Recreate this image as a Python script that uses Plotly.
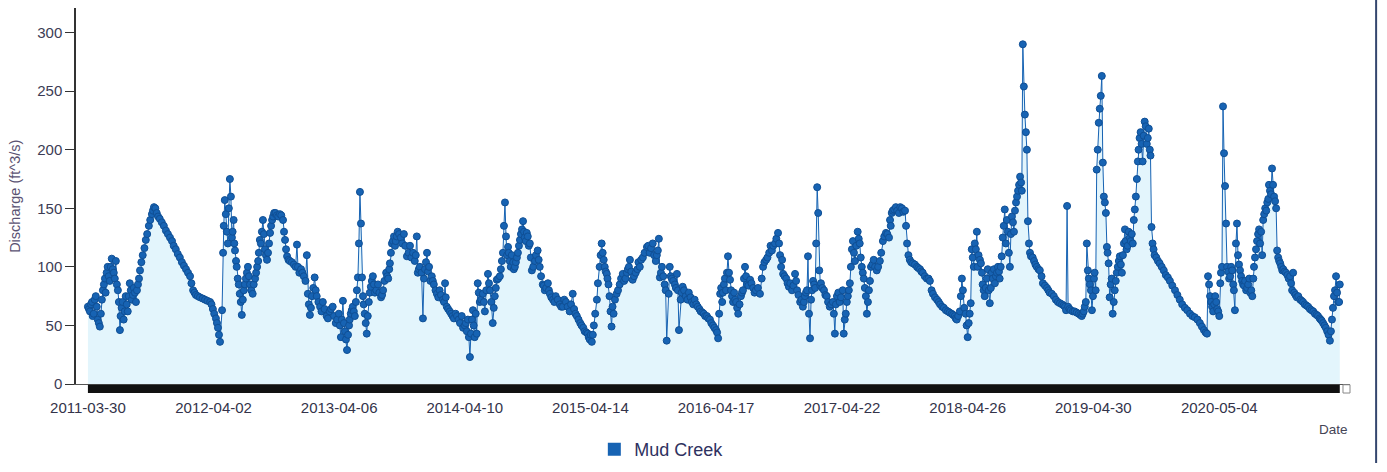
import pandas as pd
import plotly.graph_objects as go

# Discharge readings taken from the chart (ft^3/s)
dates = [
    "2011-03-30","2011-04-05","2011-04-11","2011-04-16","2011-04-22","2011-04-28","2011-05-04","2011-05-10","2011-05-16","2011-05-21",
    "2011-05-27","2011-06-02","2011-06-08","2011-06-14","2011-06-20","2011-06-26","2011-07-02","2011-07-07","2011-07-13","2011-07-19",
    "2011-07-25","2011-07-31","2011-08-06","2011-08-12","2011-08-18","2011-08-24","2011-08-30","2011-09-07","2011-09-16","2011-09-25",
    "2011-10-04","2011-10-10","2011-10-18","2011-10-27","2011-11-08","2011-11-20","2011-12-02","2011-12-13","2011-12-25","2012-01-06",
    "2012-01-18","2012-01-24","2012-02-02","2012-02-10","2012-02-22","2012-03-08","2012-03-23","2012-03-31","2012-04-09","2012-04-15",
    "2012-04-21","2012-04-27","2012-04-30","2012-05-05","2012-05-11","2012-05-17","2012-05-20","2012-05-23","2012-05-26","2012-05-31",
    "2012-06-04","2012-06-09","2012-06-15","2012-06-18","2012-06-24","2012-06-30","2012-07-06","2012-07-12","2012-07-18","2012-07-26",
    "2012-08-02","2012-08-08","2012-08-13","2012-08-16","2012-08-22","2012-08-25","2012-08-31","2012-09-06","2012-09-12","2012-09-15",
    "2012-09-21","2012-09-27","2012-10-05","2012-10-14","2012-10-23","2012-10-29","2012-11-04","2012-11-12","2012-11-24","2012-12-03",
    "2012-12-06","2012-12-15","2012-12-23","2013-01-01","2013-01-04","2013-01-10","2013-01-16","2013-01-24","2013-01-30","2013-02-09",
    "2013-02-17","2013-02-28","2013-03-09","2013-03-18","2013-03-27","2013-04-05","2013-04-11","2013-04-17","2013-04-23","2013-04-29",
    "2013-05-05","2013-05-10","2013-05-16","2013-05-22","2013-05-28","2013-05-31","2013-06-03","2013-06-06","2013-06-09","2013-06-12",
    "2013-06-15","2013-06-20","2013-06-26","2013-07-02","2013-07-08","2013-07-14","2013-07-20","2013-07-29","2013-08-07","2013-08-13",
    "2013-08-22","2013-08-28","2013-09-02","2013-09-08","2013-09-14","2013-09-19","2013-09-25","2013-10-04","2013-10-13","2013-10-22",
    "2013-10-31","2013-11-09","2013-11-14","2013-11-20","2013-11-23","2013-11-29","2013-12-08","2013-12-14","2013-12-20","2013-12-26",
    "2014-01-03","2014-01-09","2014-01-18","2014-01-26","2014-02-05","2014-02-11","2014-02-16","2014-02-25","2014-03-05","2014-03-14",
    "2014-03-23","2014-04-01","2014-04-10","2014-04-16","2014-04-19","2014-04-25","2014-04-28","2014-05-04","2014-05-09","2014-05-15",
    "2014-05-18","2014-05-24","2014-06-02","2014-06-08","2014-06-17","2014-06-23","2014-07-01","2014-07-07","2014-07-13","2014-07-22",
    "2014-07-28","2014-08-03","2014-08-06","2014-08-09","2014-08-15","2014-08-20","2014-08-26","2014-09-04","2014-09-10","2014-09-19",
    "2014-09-28","2014-10-03","2014-10-09","2014-10-18","2014-10-24","2014-11-02","2014-11-10","2014-11-16","2014-11-25","2014-12-01",
    "2014-12-10","2014-12-16","2014-12-25","2015-01-02","2015-01-14","2015-01-23","2015-02-01","2015-02-12","2015-02-21","2015-03-01",
    "2015-03-10","2015-03-19","2015-03-28","2015-04-06","2015-04-12","2015-04-18","2015-04-24","2015-05-03","2015-05-06","2015-05-11",
    "2015-05-17","2015-05-20","2015-05-26","2015-06-01","2015-06-06","2015-06-09","2015-06-15","2015-06-21","2015-06-30","2015-07-09",
    "2015-07-18","2015-07-26","2015-08-02","2015-08-08","2015-08-16","2015-08-25","2015-09-06","2015-09-15","2015-09-27","2015-10-05",
    "2015-10-14","2015-10-23","2015-10-29","2015-11-01","2015-11-04","2015-11-10","2015-11-18","2015-11-24","2015-11-30","2015-12-03",
    "2015-12-09","2015-12-18","2015-12-24","2015-12-30","2016-01-04","2016-01-10","2016-01-19","2016-01-28","2016-02-06","2016-02-14",
    "2016-02-23","2016-03-03","2016-03-12","2016-03-21","2016-03-30","2016-04-08","2016-04-17","2016-04-23","2016-04-29","2016-05-05",
    "2016-05-10","2016-05-16","2016-05-22","2016-05-28","2016-06-03","2016-06-12","2016-06-18","2016-06-21","2016-06-29","2016-07-05",
    "2016-07-11","2016-07-17","2016-07-26","2016-08-04","2016-08-12","2016-08-24","2016-09-02","2016-09-11","2016-09-20","2016-09-28",
    "2016-10-07","2016-10-16","2016-10-22","2016-10-28","2016-10-31","2016-11-09","2016-11-17","2016-11-26","2016-12-05","2016-12-11",
    "2016-12-20","2016-12-28","2017-01-03","2017-01-09","2017-01-12","2017-01-15","2017-01-18","2017-01-24","2017-01-30","2017-02-05",
    "2017-02-08","2017-02-11","2017-02-14","2017-02-19","2017-02-28","2017-03-08","2017-03-17","2017-03-26","2017-04-01","2017-04-07",
    "2017-04-15","2017-04-24","2017-04-27","2017-05-03","2017-05-09","2017-05-15","2017-05-21","2017-05-24","2017-05-30","2017-06-07",
    "2017-06-13","2017-06-19","2017-06-25","2017-07-01","2017-07-04","2017-07-10","2017-07-16","2017-07-24","2017-08-02","2017-08-11",
    "2017-08-20","2017-08-29","2017-09-07","2017-09-12","2017-09-18","2017-09-27","2017-10-06","2017-10-15","2017-10-24","2017-10-30",
    "2017-11-07","2017-11-16","2017-11-28","2017-12-07","2017-12-15","2017-12-27","2018-01-05","2018-01-14","2018-01-26","2018-02-04",
    "2018-02-15","2018-02-27","2018-03-10","2018-03-19","2018-03-25","2018-04-03","2018-04-09","2018-04-12","2018-04-20","2018-04-26",
    "2018-04-29","2018-05-05","2018-05-08","2018-05-14","2018-05-23","2018-05-28","2018-06-04","2018-06-09","2018-06-15","2018-06-21",
    "2018-06-30","2018-07-06","2018-07-15","2018-07-24","2018-07-29","2018-08-04","2018-08-13","2018-08-16","2018-08-22","2018-08-28",
    "2018-09-03","2018-09-09","2018-09-15","2018-09-21","2018-09-27","2018-10-02","2018-10-05","2018-10-08","2018-10-11","2018-10-14",
    "2018-10-17","2018-10-20","2018-10-23","2018-10-29","2018-11-07","2018-11-15","2018-11-24","2018-12-03","2018-12-15","2018-12-23",
    "2019-01-04","2019-01-16","2019-01-28","2019-02-06","2019-02-09","2019-02-12","2019-02-15","2019-02-23","2019-03-06","2019-03-18",
    "2019-03-27","2019-04-02","2019-04-08","2019-04-11","2019-04-14","2019-04-20","2019-04-26","2019-05-02","2019-05-07","2019-05-10",
    "2019-05-13","2019-05-16","2019-05-22","2019-05-25","2019-05-28","2019-05-31","2019-06-06","2019-06-09","2019-06-14","2019-06-17",
    "2019-06-23","2019-06-26","2019-07-02","2019-07-08","2019-07-17","2019-07-23","2019-08-01","2019-08-06","2019-08-15","2019-08-24",
    "2019-08-30","2019-09-05","2019-09-10","2019-09-16","2019-09-22","2019-09-28","2019-10-04","2019-10-10","2019-10-15","2019-10-18",
    "2019-10-21","2019-10-27","2019-11-06","2019-11-17","2019-11-29","2019-12-11","2019-12-26","2020-01-09","2020-01-24","2020-02-08",
    "2020-02-22","2020-03-08","2020-03-20","2020-03-29","2020-04-01","2020-04-07","2020-04-16","2020-04-25","2020-05-04","2020-05-07",
    "2020-05-12","2020-05-15","2020-05-18","2020-05-21","2020-05-24","2020-05-27","2020-06-05","2020-06-11","2020-06-19","2020-06-25",
    "2020-06-28","2020-07-04","2020-07-13","2020-07-22","2020-07-31","2020-08-09","2020-08-14","2020-08-20","2020-08-29","2020-09-07",
    "2020-09-13","2020-09-22","2020-09-30","2020-10-06","2020-10-12","2020-10-18","2020-10-21","2020-10-30","2020-11-08","2020-11-16",
    "2020-11-28","2020-12-04","2020-12-07","2020-12-10","2020-12-22","2021-01-05","2021-01-20","2021-02-04","2021-02-18","2021-03-01",
    "2021-03-13","2021-03-25","2021-03-31","2021-04-06","2021-04-12","2021-04-18","2021-04-23",
]
discharge = [
    66, 62, 70, 60, 75, 55, 49, 72, 85, 78,
    100, 88, 107, 95, 105, 80, 46, 65, 55, 75,
    62, 86, 72, 82, 70, 85, 97, 110, 123, 135,
    145, 151, 146, 141, 135, 128, 122, 115, 108, 101,
    95, 92, 80, 76, 74, 72, 70, 64, 56, 48,
    36, 63, 112, 157, 130, 150, 175, 160, 125, 140,
    114, 100, 85, 77, 59, 80, 90, 100, 85, 77,
    90, 100, 112, 123, 130, 140, 115, 106, 120, 129,
    140, 146, 144, 145, 140, 123, 109, 105, 102, 119,
    100, 98, 92, 110, 77, 59, 75, 91, 75, 66,
    70, 58, 62, 66, 52, 60, 40, 71, 45, 29,
    50, 60, 66, 58, 80, 91, 120, 164, 137, 91,
    75, 60, 43, 70, 83, 92, 78, 85, 74, 80,
    95, 90, 103, 120, 126, 122, 130, 125, 128, 109,
    118, 112, 105, 126, 95, 100, 56, 98, 112, 100,
    92, 85, 77, 80, 72, 86, 66, 62, 58, 60,
    55, 58, 50, 45, 55, 23, 43, 63, 40, 43,
    86, 70, 77, 62, 94, 80, 52, 75, 89, 92,
    105, 135, 155, 126, 117, 105, 110, 100, 108, 123,
    139, 125, 129, 120, 97, 105, 114, 100, 85, 80,
    86, 77, 72, 75, 68, 66, 70, 62, 77, 60,
    55, 50, 45, 43, 38, 36, 50, 72, 86, 100,
    120, 112, 100, 94, 85, 75, 49, 60, 77, 85,
    94, 90, 98, 106, 89, 95, 100, 108, 117, 112,
    120, 105, 114, 124, 91, 100, 85, 37, 77, 100,
    90, 85, 94, 46, 72, 83, 75, 78, 70, 72,
    66, 62, 60, 58, 55, 50, 46, 39, 77, 70,
    85, 80, 109, 89, 75, 72, 65, 60, 75, 80,
    100, 85, 89, 82, 80, 77, 100, 106, 112, 114,
    120, 129, 110, 106, 94, 90, 83, 80, 94, 80,
    70, 66, 75, 80, 109, 60, 39, 80, 85, 120,
    168, 146, 97, 86, 80, 75, 66, 70, 43, 75,
    70, 80, 43, 60, 75, 86, 115, 122, 105, 130,
    120, 100, 90, 75, 60, 80, 100, 106, 97, 105,
    122, 129, 125, 135, 148, 151, 146, 150, 148, 120,
    106, 103, 100, 98, 95, 90, 88, 77, 72, 68,
    65, 62, 60, 58, 55, 62, 90, 80, 60, 40,
    52, 69, 115, 100, 130, 110, 103, 85, 75, 90,
    69, 95, 86, 100, 90, 109, 149, 120, 130, 100,
    143, 130, 155, 165, 177, 165, 290, 254, 230, 215,
    200, 139, 120, 109, 105, 100, 97, 86, 82, 78,
    75, 70, 68, 66, 63, 152, 66, 63, 62, 60,
    58, 62, 70, 120, 97, 85, 63, 90, 80, 183,
    200, 223, 246, 263, 189, 160, 146, 117, 103, 74,
    90, 60, 80, 95, 109, 95, 132, 115, 125, 120,
    149, 175, 200, 215, 190, 224, 205, 218, 195, 134,
    120, 110, 105, 100, 93, 88, 80, 72, 65, 60,
    57, 52, 46, 43, 92, 75, 62, 70, 58, 86,
    100, 237, 197, 169, 137, 100, 92, 97, 63, 137,
    110, 97, 85, 80, 90, 75, 100, 115, 132, 110,
    145, 155, 165, 184, 160, 150, 114, 103, 98, 95,
    92, 80, 95, 78, 75, 70, 66, 62, 58, 54,
    48, 37, 55, 75, 92, 70, 85,
]

# Further readings taken in between, where the reference band is dense
extra_dates = [
    "2011-04-02","2011-04-08","2011-04-13","2011-04-19","2011-04-25","2011-05-01","2011-05-07","2011-05-13","2011-05-19","2011-05-24",
    "2011-05-30","2011-06-05","2011-06-11","2011-06-17","2011-06-23","2011-06-29","2011-07-04","2011-07-10","2011-07-16","2011-07-22",
    "2011-07-28","2011-08-03","2011-08-09","2011-08-15","2011-08-21","2011-08-27","2011-09-03","2011-09-12","2011-09-20","2011-09-29",
    "2011-10-07","2011-10-14","2011-10-22","2011-11-02","2011-11-14","2011-11-26","2011-12-07","2011-12-19","2011-12-31","2012-01-12",
    "2012-01-28","2012-02-06","2012-02-16","2012-03-01","2012-03-15","2012-03-27","2012-04-04","2012-04-12","2012-04-18",
    "2012-05-02","2012-05-08","2012-05-14","2012-05-28","2012-06-02","2012-06-07","2012-06-12","2012-06-21","2012-06-27","2012-07-03",
    "2012-07-09","2012-07-15","2012-07-22","2012-07-29","2012-08-05","2012-08-11","2012-08-19","2012-08-28","2012-09-03","2012-09-09",
    "2012-09-18","2012-09-24","2012-10-01","2012-10-09","2012-10-18","2012-10-26","2012-11-01","2012-11-08","2012-11-18","2012-11-29",
    "2012-12-10","2012-12-19","2012-12-28","2013-01-07","2013-01-13","2013-01-20","2013-01-27","2013-02-04","2013-02-13","2013-02-22",
    "2013-03-04","2013-03-13","2013-03-22","2013-03-31","2013-04-08","2013-04-14","2013-04-20","2013-04-26","2013-05-02","2013-05-07",
    "2013-05-13","2013-05-19","2013-05-25",
    "2013-06-17","2013-06-23","2013-06-29","2013-07-05","2013-07-11","2013-07-17","2013-07-24","2013-08-02","2013-08-10","2013-08-17",
    "2013-08-25","2013-08-31","2013-09-05","2013-09-11","2013-09-17","2013-09-22","2013-09-29","2013-10-08","2013-10-17","2013-10-27",
    "2013-11-04","2013-11-17","2013-11-26","2013-12-04","2013-12-11","2013-12-17","2013-12-23","2013-12-30","2014-01-06","2014-01-14",
    "2014-01-22","2014-01-30","2014-02-08","2014-02-13","2014-02-20","2014-03-01","2014-03-09","2014-03-18","2014-03-27","2014-04-05",
    "2014-04-13","2014-04-22","2014-05-01","2014-05-06","2014-05-12","2014-05-21","2014-05-28","2014-06-05","2014-06-12","2014-06-20",
    "2014-06-27","2014-07-04","2014-07-10","2014-07-17","2014-07-25",
    "2014-07-31","2014-08-12","2014-08-17","2014-08-23","2014-08-30","2014-09-01","2014-09-07","2014-09-13","2014-09-16","2014-09-22",
    "2014-09-25","2014-10-01","2014-10-06","2014-10-12","2014-10-15","2014-10-21","2014-10-28","2014-11-05","2014-11-13","2014-11-20",
    "2014-11-28","2014-12-05","2014-12-13","2014-12-20","2014-12-29","2015-01-08","2015-01-18","2015-01-27","2015-02-06","2015-02-16",
    "2015-02-25","2015-03-05","2015-03-15","2015-03-24","2015-04-02","2015-04-09","2015-04-15","2015-04-21","2015-04-28",
    "2015-05-14","2015-05-23","2015-05-29","2015-06-03","2015-06-12","2015-06-18","2015-06-25","2015-07-04","2015-07-13","2015-07-22",
    "2015-07-30","2015-08-05","2015-08-12","2015-08-20","2015-08-30","2015-09-02","2015-09-10","2015-09-20","2015-10-01","2015-10-09",
    "2015-10-18","2015-10-26","2015-11-07","2015-11-14","2015-11-21","2015-12-06","2015-12-13","2015-12-21","2015-12-27","2016-01-07",
    "2016-01-14","2016-01-24","2016-02-02","2016-02-10","2016-02-19","2016-02-28","2016-03-08","2016-03-16","2016-03-25","2016-04-03",
    "2016-04-12","2016-04-20","2016-04-26","2016-05-02","2016-05-07","2016-05-13","2016-05-19","2016-05-25","2016-05-31","2016-06-06",
    "2016-06-09","2016-06-15","2016-06-25","2016-07-02","2016-07-08","2016-07-14","2016-07-21","2016-07-30","2016-08-08","2016-08-18",
    "2016-08-29","2016-09-06","2016-09-15","2016-09-24","2016-10-02","2016-10-11","2016-10-19","2016-10-25","2016-11-04","2016-11-13",
    "2016-11-21","2016-11-30","2016-12-08","2016-12-15","2016-12-24","2016-12-31","2017-01-06","2017-01-21","2017-01-27","2017-02-02",
    "2017-02-17","2017-02-23","2017-03-04","2017-03-12","2017-03-21","2017-03-29","2017-04-04","2017-04-11","2017-04-19","2017-04-30",
    "2017-05-06","2017-05-12","2017-05-18","2017-05-27","2017-06-03","2017-06-10","2017-06-16","2017-06-22","2017-06-28","2017-07-07",
    "2017-07-13","2017-07-20","2017-07-28","2017-08-06","2017-08-15","2017-08-24","2017-09-02","2017-09-10","2017-09-15","2017-09-22",
    "2017-10-01","2017-10-10","2017-10-19","2017-10-27","2017-11-03","2017-11-11","2017-11-22","2017-12-02","2017-12-11","2017-12-21",
    "2018-01-01","2018-01-10","2018-01-20","2018-01-31","2018-02-10","2018-02-21","2018-03-04","2018-03-14","2018-03-22","2018-03-29",
    "2018-04-06","2018-04-16","2018-04-23","2018-05-02","2018-05-11","2018-05-17","2018-05-20","2018-05-25","2018-06-01","2018-06-07",
    "2018-06-12","2018-06-18","2018-06-24","2018-06-27","2018-07-03","2018-07-09","2018-07-12","2018-07-18","2018-07-21","2018-07-27",
    "2018-08-01","2018-08-07","2018-08-10","2018-08-19","2018-08-25","2018-08-31","2018-09-06","2018-09-12","2018-09-18","2018-09-24",
    "2018-09-30",
    "2018-10-26","2018-11-03","2018-11-11","2018-11-20","2018-11-29","2018-12-09","2018-12-19","2018-12-29","2019-01-10","2019-01-22",
    "2019-02-02","2019-02-19","2019-03-01","2019-03-12","2019-03-23","2019-03-30","2019-04-05","2019-04-17","2019-04-23","2019-04-29",
    "2019-05-04","2019-05-19","2019-06-03","2019-06-11","2019-06-20","2019-06-29","2019-07-05","2019-07-11","2019-07-14","2019-07-20",
    "2019-07-26","2019-07-29","2019-08-03","2019-08-09","2019-08-12","2019-08-18","2019-08-21","2019-08-27","2019-09-02","2019-09-08",
    "2019-09-13","2019-09-19","2019-09-25","2019-10-01","2019-10-07","2019-10-13","2019-10-24","2019-11-01","2019-11-11","2019-11-23",
    "2019-12-05","2019-12-18","2020-01-02","2020-01-16","2020-01-31","2020-02-15","2020-03-01","2020-03-14","2020-03-25","2020-04-04",
    "2020-04-10","2020-04-13","2020-04-19","2020-04-22","2020-04-28","2020-05-01","2020-05-09","2020-05-30","2020-06-02","2020-06-08",
    "2020-06-14","2020-06-16","2020-06-22","2020-07-01","2020-07-07","2020-07-10","2020-07-16","2020-07-19","2020-07-25","2020-07-28",
    "2020-08-03","2020-08-06","2020-08-12","2020-08-17","2020-08-23","2020-08-26","2020-09-01","2020-09-04","2020-09-10","2020-09-16",
    "2020-09-19","2020-09-25","2020-09-27","2020-10-03","2020-10-09","2020-10-15","2020-10-24","2020-10-27","2020-11-02","2020-11-05",
    "2020-11-12","2020-11-20","2020-11-24","2020-12-01","2020-12-14","2020-12-18","2020-12-28","2021-01-01","2021-01-10","2021-01-15",
    "2021-01-25","2021-01-30","2021-02-09","2021-02-14","2021-02-23","2021-02-26","2021-03-05","2021-03-09","2021-03-17","2021-03-21",
    "2021-03-28","2021-04-03","2021-04-09","2021-04-15","2021-04-21",
]
extra_discharge = [
    64, 68, 58, 72, 66, 52, 60, 80, 90, 95,
    92, 100, 98, 90, 85, 70, 58, 70, 62, 68,
    75, 80, 76, 78, 80, 90, 104, 116, 128, 140,
    148, 150, 143, 138, 131, 125, 118, 111, 104, 98,
    86, 78, 75, 73, 71, 68, 60, 52, 42,
    135, 145, 120, 130, 120, 105, 90, 70, 72, 85,
    95, 92, 80, 85, 95, 105, 120, 128, 110, 112,
    135, 143, 146, 143, 144, 130, 115, 106, 104, 100,
    95, 95, 88, 68, 65, 82, 80, 70, 62, 64,
    56, 64, 58, 55, 50, 55, 52, 38, 42, 55,
    63, 62, 70,
    68, 52, 58, 78, 88, 85, 80, 78, 76, 88,
    92, 98, 112, 122, 118, 126, 128, 120, 118, 112,
    108, 110, 98, 95, 90, 104, 96, 88, 88, 80,
    74, 76, 70, 74, 64, 60, 56, 58, 52, 48,
    52, 40, 55, 50, 60, 78, 72, 70, 80, 86,
    70, 65, 82, 90, 98,
    112, 110, 112, 100, 104, 98, 104, 112, 118, 128,
    132, 130, 122, 126, 118, 108, 100, 110, 106, 92,
    84, 82, 80, 74, 70, 72, 66, 72, 66, 68,
    64, 58, 52, 48, 44, 40, 42, 42, 60,
    110, 106, 96, 90, 62, 66, 72, 80, 90, 88,
    95, 100, 96, 92, 98, 104, 106, 112, 118, 116,
    110, 110, 95, 92, 80, 92, 88, 82, 80, 78,
    80, 72, 74, 68, 68, 64, 61, 58, 56, 52,
    48, 44, 60, 82, 78, 90, 95, 95, 80, 70,
    78, 70, 68, 78, 90, 92, 84, 86, 78, 82,
    90, 104, 108, 118, 118, 124, 120, 100, 92, 86,
    86, 84, 88, 76, 72, 70, 78, 72, 88, 82,
    84, 82, 76, 70, 68, 60, 68, 78, 74, 55,
    70, 80, 100, 112, 118, 124, 108, 95, 82, 70,
    88, 102, 100, 100, 112, 126, 128, 140, 146, 149,
    148, 151, 147, 135, 110, 104, 102, 99, 96, 92,
    90, 80, 74, 70, 66, 63, 61, 59, 56, 58,
    75, 65, 50, 60, 108, 120, 115, 100, 106, 95,
    80, 82, 98, 80, 82, 90, 98, 92, 95, 96,
    100, 125, 135, 140, 112, 128, 138, 148, 160, 170,
    172,
    112, 108, 102, 98, 92, 84, 80, 77, 72, 69,
    67, 64, 62, 61, 59, 60, 66, 90, 80, 75,
    95, 235, 155, 112, 85, 70, 88, 100, 105, 102,
    110, 120, 122, 118, 130, 122, 128, 140, 160, 190,
    210, 205, 212, 220, 210, 200, 115, 108, 103, 97,
    91, 84, 76, 68, 63, 58, 55, 49, 44, 85,
    70, 66, 68, 75, 64, 62, 95, 96, 90, 100,
    85, 80, 120, 102, 92, 88, 84, 88, 82, 85,
    78, 80, 90, 108, 122, 128, 120, 130, 140, 150,
    148, 158, 170, 162, 170, 156, 108, 105, 100, 97,
    96, 93, 90, 86, 76, 74, 72, 71, 68, 67,
    64, 63, 60, 59, 56, 55, 52, 50, 45, 42,
    45, 65, 80, 78, 70,
]

tick_dates = ["2011-03-30", "2012-04-02", "2013-04-06", "2014-04-10", "2015-04-14",
              "2016-04-17", "2017-04-22", "2018-04-26", "2019-04-30", "2020-05-04"]
tick_labels = tick_dates
y_ticks = [0, 50, 100, 150, 200, 250, 300]

series_name = "Mud Creek"
blue = "#1763b3"
font_family = "Liberation Sans, Arial, sans-serif"

# one chronological table built from the readings
table = pd.DataFrame({
    "date": pd.to_datetime(dates + extra_dates),
    "q": discharge + extra_discharge,
}).sort_values("date", kind="stable")

fig = go.Figure()
fig.add_trace(go.Scatter(
    x=table["date"], y=table["q"], mode="lines+markers",
    line=dict(color=blue, width=1),
    marker=dict(color=blue, size=7, line=dict(color="#0f4f95", width=1)),
    fill="tozeroy", fillcolor="#e3f5fc",
    showlegend=False, name=series_name,
))
fig.add_trace(go.Scatter(
    x=[None], y=[None], mode="markers", name=series_name,
    marker=dict(color=blue, size=13, symbol="square"),
))

fig.update_layout(
    width=1387, height=472,
    margin=dict(l=76, r=37, t=8, b=88, autoexpand=False),
    paper_bgcolor="white", plot_bgcolor="white",
    font=dict(family=font_family, size=15, color="#3c3c50"),
    legend=dict(orientation="h", xref="container", yref="container",
                x=0.4285, y=0.0475, xanchor="left", yanchor="middle",
                font=dict(size=18, color="#2e3160"), itemwidth=30),
    xaxis=dict(
        type="date", range=["2011-02-23", "2021-05-23"], automargin=False,
        tickvals=tick_dates, ticktext=tick_labels,
        showgrid=False, zeroline=False,
        showline=True, linecolor="#555555", linewidth=1,
        ticks="outside", ticklen=10, tickcolor="rgba(0,0,0,0)",
        tickfont=dict(size=15, color="#33334a"),
    ),
    yaxis=dict(
        range=[0, 321], tickvals=y_ticks, automargin=False,
        showgrid=False, zeroline=False,
        showline=True, linecolor="#333333", linewidth=1.5,
        ticks="outside", ticklen=9, tickcolor="#333333",
        tickfont=dict(size=15, color="#3c3c55"),
    ),
    shapes=[
        dict(type="rect", xref="x", yref="paper", x0=dates[0], x1=dates[-1],
             y0=-0.024, y1=-0.002, fillcolor="#111111", line=dict(width=0), layer="above"),
        dict(type="rect", xref="paper", yref="paper", x0=0.9945, x1=1.0,
             y0=-0.024, y1=-0.002, line=dict(color="#888888", width=1)),
        dict(type="line", xref="paper", yref="paper", x0=1.0205, x1=1.0205,
             y0=-0.21, y1=1.021, line=dict(color="#34466e", width=2)),
    ],
    annotations=[
        dict(text="Discharge (ft^3/s)", xref="paper", yref="paper", x=-0.048, y=0.5,
             xanchor="center", yanchor="middle", textangle=-90, showarrow=False,
             font=dict(size=14.5, color="#5a5272")),
        dict(text="Date", xref="paper", yref="paper", x=0.987, y=-0.122,
             xanchor="center", yanchor="middle", showarrow=False,
             font=dict(size=13.5, color="#444455")),
    ],
)

fig.write_html("out.html", config={"displayModeBar": False},
               post_script="document.body.style.margin='0px';")
